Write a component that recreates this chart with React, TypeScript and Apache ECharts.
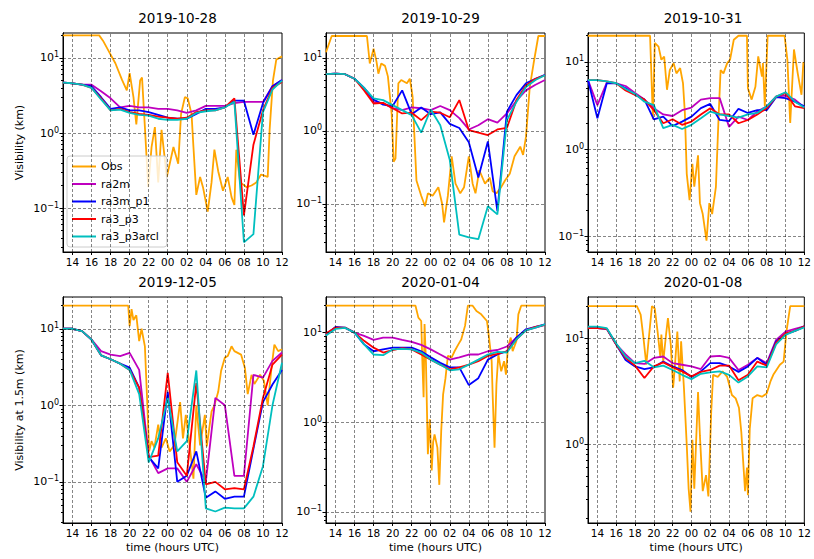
import React, { useEffect, useRef } from "react";
import * as echarts from "echarts";

// hours since 00 UTC of the first day, 13 .. 36 (= 12 UTC next day)
const hours = [13, 14, 15, 16, 17, 18, 19, 20, 21, 22, 23, 24, 25, 26, 27, 28, 29, 30, 31, 32, 33, 34, 35, 36];
const xTicks = [14, 16, 18, 20, 22, 24, 26, 28, 30, 32, 34, 36];
const yTicks = [0.1, 1, 10];
const yMinor = [0.02, 0.03, 0.04, 0.05, 0.06, 0.07, 0.08, 0.09, 0.2, 0.3, 0.4, 0.5, 0.6, 0.7, 0.8, 0.9, 2, 3, 4, 5, 6, 7, 8, 9, 20];
const titles = ["2019-10-28", "2019-10-29", "2019-10-31", "2019-12-05", "2020-01-04", "2020-01-08"];
const seriesNames = ["Obs", "ra2m", "ra3m_p1", "ra3_p3", "ra3_p3arcl"];
const colors = ["#ffa500", "#bf00bf", "#0000ff", "#ff0000", "#00bfbf"];

// 2019-10-28
const obs1 = [[13, 20], [16.8, 20], [17.2, 17], [17.9, 11.7], [18.5, 8.5], [19.2, 5.1], [19.7, 3.7], [20, 6.3], [20.4, 3.0], [20.7, 1.3], [21.1, 5], [21.3, 5.5], [21.6, 1.2], [21.95, 0.19], [22.3, 0.65], [22.65, 1.2], [23, 0.22], [23.35, 1.1], [23.9, 0.26], [24.6, 0.65], [25.1, 0.39], [25.4, 1.8], [25.8, 3.0], [26.1, 2.9], [26.5, 1.8], [26.7, 0.65], [27, 0.15], [27.4, 0.26], [27.7, 0.19], [28.2, 0.09], [28.6, 0.22], [28.9, 0.6], [29.3, 0.31], [29.8, 0.17], [30.3, 0.26], [30.7, 0.14], [31, 0.11], [31.2, 0.6], [31.6, 0.22], [32.3, 0.19], [32.8, 0.2], [33.3, 0.22], [33.8, 0.28], [34.5, 0.26], [34.7, 1.1], [35.05, 5], [35.4, 9.5], [36, 10.5]];
const ra2m1 = [4.7, 4.6, 4.4, 4.4, 3.6, 2.9, 2.2, 2.3, 2.2, 2.2, 2.1, 2.1, 2.0, 1.85, 2.0, 2.3, 2.3, 2.3, 2.5, 2.6, 2.6, 2.6, 4.2, 5.1];
const p1m1 = [4.7, 4.6, 4.4, 4.2, 3.0, 2.1, 2.2, 2.0, 2.0, 1.9, 1.75, 1.6, 1.55, 1.55, 1.8, 2.1, 2.1, 2.2, 2.7, 2.7, 0.95, 2.5, 4.2, 5.1];
const p3m1 = [4.7, 4.6, 4.4, 4.0, 2.9, 2.0, 2.1, 1.9, 1.8, 1.75, 1.65, 1.6, 1.55, 1.6, 1.9, 2.0, 2.0, 2.2, 2.9, 0.08, 0.7, 2.0, 4.0, 4.8];
const arcl1 = [4.7, 4.6, 4.4, 4.0, 2.8, 2.0, 2.05, 1.85, 1.75, 1.7, 1.55, 1.5, 1.5, 1.55, 1.85, 1.95, 2.0, 2.2, 2.6, 0.035, 0.045, 1.9, 3.8, 5.0];

// 2019-10-29
const obs2 = [[13, 12], [13.6, 20], [17.3, 20], [17.6, 8.4], [18, 13.4], [18.3, 9], [18.5, 6.1], [18.8, 8.4], [19.2, 7.8], [19.5, 5.6], [19.9, 1.7], [20.1, 0.38], [20.3, 0.42], [20.6, 4.5], [20.9, 5], [21.5, 4.5], [21.8, 5.2], [22, 3.6], [22.1, 2.9], [22.5, 0.21], [23, 0.13], [23.4, 0.093], [23.7, 0.14], [24.2, 0.13], [24.8, 0.17], [25.2, 0.1], [25.4, 0.056], [25.8, 0.13], [26.2, 0.45], [26.6, 0.19], [27.1, 0.14], [27.5, 0.17], [28, 0.45], [28.4, 0.19], [28.7, 0.14], [29.1, 0.29], [29.7, 0.19], [30.2, 0.23], [30.5, 0.15], [30.9, 0.14], [31.4, 0.17], [31.8, 0.21], [32.3, 0.26], [32.8, 0.45], [33.4, 0.61], [33.7, 0.47], [34, 0.83], [34.4, 4], [34.8, 8.4], [35.3, 20], [36, 20]];
const ra2m2 = [6.0, 6.1, 6.0, 5.2, 3.8, 2.5, 2.4, 2.05, 1.93, 2.1, 2.05, 1.93, 2.2, 1.93, 1.5, 1.05, 1.2, 1.45, 1.3, 1.74, 2.6, 3.6, 4.3, 5.0];
const p1m2 = [6.0, 6.1, 6.0, 5.2, 3.9, 2.7, 2.3, 2.2, 3.6, 1.7, 2.1, 1.7, 1.8, 1.25, 1.1, 0.7, 0.23, 0.72, 0.08, 1.84, 3.1, 4.5, 5.2, 5.9];
const p3m2 = [6.0, 6.1, 6.0, 5.2, 3.6, 2.38, 2.43, 2.05, 1.74, 1.78, 1.41, 1.84, 1.78, 1.54, 2.65, 1.03, 0.95, 0.88, 1.05, 1.1, 2.65, 4.2, 5.2, 5.8];
const arcl2 = [6.0, 6.1, 6.0, 5.2, 3.9, 2.8, 2.65, 2.26, 1.93, 1.65, 0.95, 1.97, 1.2, 0.4, 0.038, 0.035, 0.033, 0.093, 0.072, 1.41, 2.5, 4.0, 5.0, 5.8];

// 2019-10-31
const obs3 = [[13, 20], [19.6, 20], [19.9, 2.2], [20.1, 16.5], [20.5, 15], [20.8, 10.6], [21.1, 11.5], [21.4, 4.8], [21.7, 8.1], [22.1, 9.7], [22.4, 7.4], [22.8, 8.5], [23.1, 5.7], [23.3, 2.6], [23.5, 0.52], [23.8, 0.26], [24.1, 0.68], [24.3, 0.37], [24.7, 0.85], [24.9, 0.24], [25.2, 0.18], [25.6, 0.089], [25.9, 0.24], [26.2, 0.18], [26.6, 0.37], [26.9, 2.6], [27.1, 8.1], [27.4, 7.4], [27.8, 9.7], [28.1, 10.6], [28.5, 18], [29, 20], [29.9, 20], [30, 5], [30.4, 3.7], [30.8, 5.2], [31.1, 11.6], [31.5, 6.8], [31.6, 9.7], [31.8, 3.1], [32.1, 20], [33.9, 20], [34.2, 10.6], [34.5, 2], [34.9, 13.9], [35.3, 7.4], [35.7, 4.2], [35.9, 10]];
const ra2m3 = [6.2, 3.2, 5.8, 5.7, 5.3, 4.4, 3.7, 2.95, 2.5, 2.4, 2.8, 3.0, 3.7, 3.85, 3.85, 1.8, 2.36, 2.16, 2.7, 3.1, 4.0, 4.1, 3.7, 3.0];
const p1m3 = [6.2, 2.26, 5.7, 5.7, 5.0, 4.2, 3.7, 2.2, 2.36, 1.84, 2.07, 2.36, 2.95, 3.3, 2.16, 2.1, 2.9, 2.6, 2.8, 2.8, 3.95, 3.85, 3.5, 3.1];
const p3m3 = [6.2, 6.2, 6.0, 5.7, 4.7, 4.2, 3.7, 2.8, 1.98, 2.2, 1.9, 2.07, 2.5, 2.95, 2.5, 2.5, 1.98, 2.16, 2.5, 2.95, 4.0, 4.4, 3.1, 2.95];
const arcl3 = [6.2, 6.2, 6.0, 5.7, 4.9, 4.3, 3.5, 3.2, 1.74, 1.9, 1.7, 1.9, 2.26, 2.7, 2.5, 2.4, 2.3, 2.5, 2.6, 3.1, 4.0, 4.5, 3.5, 3.0];

// 2019-12-05
const obs4 = [[13, 20], [19.85, 20], [20, 10.8], [20.2, 18], [20.4, 13], [20.7, 15], [21, 6.9], [21.25, 10], [21.6, 5.9], [21.8, 1.5], [22.05, 0.25], [22.3, 0.34], [22.6, 0.28], [23, 0.56], [23.35, 0.28], [23.8, 0.37], [24.2, 0.25], [24.7, 0.3], [25.3, 1.1], [25.6, 0.37], [25.9, 0.75], [26.3, 0.3], [26.7, 0.11], [27, 1.0], [27.4, 0.3], [27.9, 0.75], [28.1, 0.29], [28.6, 0.83], [28.9, 1.0], [29.3, 1.5], [29.6, 2.8], [30, 4.2], [30.3, 4.4], [30.7, 5.9], [31, 5.1], [31.7, 4.6], [32.1, 3.1], [32.4, 1.4], [32.8, 2.5], [33.1, 1.9], [33.7, 2.5], [34.1, 2.1], [34.5, 1.0], [34.9, 3.1], [35.2, 6.2], [35.6, 5.1], [36, 5.4]];
const ra2m4 = [10, 10, 9.3, 7.2, 5.1, 4.6, 4.4, 4.85, 2.9, 0.22, 0.13, 0.15, 0.15, 0.1, 0.17, 0.1, 1.25, 1.0, 0.12, 0.12, 2.5, 2.3, 3.8, 4.9];
const p1m4 = [10, 10, 9.3, 7.2, 4.5, 4.0, 3.5, 3.1, 1.7, 0.21, 0.15, 1.5, 0.1, 0.12, 0.25, 0.062, 0.075, 0.06, 0.064, 0.064, 0.27, 1.1, 1.87, 2.9];
const p3m4 = [10, 10, 9.3, 7.2, 4.5, 4.0, 3.5, 2.9, 1.7, 0.21, 0.22, 2.65, 0.18, 0.12, 1.95, 0.093, 0.1, 0.08, 0.083, 0.08, 0.29, 1.25, 3.4, 4.6];
const arcl4 = [10, 10, 9.3, 7.2, 4.5, 4.0, 3.5, 2.9, 1.4, 0.18, 0.37, 1.25, 0.25, 0.34, 2.85, 0.045, 0.041, 0.046, 0.045, 0.045, 0.064, 0.16, 1.0, 3.6];

// 2020-01-04
const obs5 = [[13, 20], [22.4, 20], [22.7, 14.7], [23, 13.5], [23.1, 5.5], [23.25, 1.9], [23.35, 12.5], [23.5, 4.6], [23.7, 0.44], [23.9, 1.08], [24.1, 0.29], [24.25, 0.6], [24.4, 0.73], [24.7, 0.52], [24.9, 0.2], [25.1, 0.8], [25.3, 2.05], [25.55, 3.1], [25.8, 5.5], [26.2, 5.3], [26.5, 6.2], [26.9, 7.4], [27.2, 8.4], [27.6, 11.9], [27.9, 20], [28.4, 20], [28.8, 17.4], [29.3, 16], [29.9, 13.5], [30, 11.4], [30.4, 4.8], [30.5, 2.05], [30.7, 0.52], [30.9, 2.65], [31.1, 5.7], [31.4, 3.7], [31.7, 4.8], [31.9, 3.4], [32.1, 6.8], [32.4, 8.8], [32.6, 6.2], [33, 8.1], [33.2, 16], [33.5, 20], [36, 20]];
const ra2m5 = [9.8, 11.3, 11.3, 10, 9.2, 8.3, 8.8, 8.8, 8.3, 7.9, 7.3, 6.5, 5.7, 5.0, 5.3, 5.7, 5.7, 6.2, 6.4, 7.0, 8.8, 10.7, 11.4, 12.2];
const p1m5 = [9.5, 11.6, 11.4, 10, 7.4, 6.2, 6.5, 6.8, 6.8, 6.8, 6.2, 5.3, 4.6, 4.1, 4.1, 2.6, 3.1, 5.0, 5.7, 6.2, 8.8, 10.9, 11.6, 12.4];
const p3m5 = [9.8, 11.4, 11.4, 10, 8.1, 6.8, 6.0, 6.4, 6.7, 6.5, 5.7, 5.0, 4.4, 3.9, 4.1, 4.4, 4.8, 5.5, 5.8, 6.2, 8.4, 10.6, 11.6, 12.2];
const arcl5 = [9.3, 11, 11.3, 10, 7.4, 5.7, 5.6, 6.5, 6.6, 6.5, 6.0, 5.0, 4.4, 3.8, 3.9, 4.4, 5.0, 5.7, 6.1, 6.0, 8.4, 10.6, 11.4, 12.4];

// 2020-01-08
const obs6 = [[13, 20], [18.2, 20], [18.6, 16.6], [18.9, 10], [19.2, 5.6], [19.4, 8.7], [19.8, 20], [20.1, 19], [20.4, 11.5], [20.7, 6.5], [20.8, 10.8], [21, 6.0], [21.3, 10.8], [21.5, 15.4], [21.8, 8.7], [22.05, 3.4], [22.2, 4.9], [22.5, 11.5], [22.75, 3.9], [22.9, 9.3], [23.2, 3.4], [23.5, 0.98], [23.7, 0.38], [23.9, 0.23], [24.1, 1.1], [24.3, 0.38], [24.7, 3.1], [24.9, 1.2], [25.2, 0.36], [25.55, 0.51], [25.8, 0.32], [26.1, 2.0], [26.3, 4.5], [26.8, 4.3], [27.3, 4.85], [27.8, 4.3], [28.3, 2.9], [28.7, 2.7], [29.05, 2.2], [29.3, 1.3], [29.7, 0.36], [29.9, 0.6], [30, 0.33], [30.2, 1.4], [30.5, 2.7], [31, 2.9], [31.5, 2.8], [32, 3.0], [32.4, 3.9], [32.7, 4.5], [33.4, 5.6], [33.8, 6.0], [34.1, 11.5], [34.5, 20], [36, 20]];
const ra2m6 = [12.4, 12.4, 12.2, 8.7, 7.0, 5.8, 5.7, 6.5, 6.7, 5.8, 5.6, 5.4, 5.1, 6.7, 6.8, 6.5, 5.0, 5.6, 6.5, 5.8, 9.6, 11.5, 12.2, 12.9];
const p1m6 = [12.4, 12.4, 12.2, 8.7, 6.2, 5.4, 5.1, 5.3, 6.0, 5.4, 5.0, 4.3, 4.85, 5.8, 5.8, 5.4, 4.8, 5.4, 6.5, 5.6, 9.3, 10.9, 11.7, 12.9];
const p3m6 = [12.4, 12.4, 12.2, 8.7, 6.5, 5.5, 4.2, 5.4, 5.9, 5.3, 4.85, 4.35, 4.8, 5.0, 5.5, 5.5, 4.0, 4.5, 6.0, 5.5, 9.0, 11.1, 11.7, 12.9];
const arcl6 = [12.8, 12.8, 12.4, 8.9, 6.7, 5.8, 6.1, 5.3, 5.5, 5.0, 4.5, 4.1, 4.6, 4.75, 4.85, 4.5, 3.8, 4.35, 5.4, 5.3, 8.7, 10.7, 11.7, 12.6];

const obsList = [obs1, obs2, obs3, obs4, obs5, obs6];
const modelList = [
  [ra2m1, p1m1, p3m1, arcl1],
  [ra2m2, p1m2, p3m2, arcl2],
  [ra2m3, p1m3, p3m3, arcl3],
  [ra2m4, p1m4, p3m4, arcl4],
  [ra2m5, p1m5, p3m5, arcl5],
  [ra2m6, p1m6, p3m6, arcl6],
];
const yRanges = [[0.026, 21.5], [0.022, 22], [0.066, 21.5], [0.029, 26], [0.075, 25], [0.18, 24.4]];

// panel layout in px
const lefts = [63, 326, 588];
const widths = [219, 219, 220];
const tops = [33, 297];
const heights = [219, 226];

const FONT = "DejaVu Sans";
const fmtPow = (v: number) => {
  const e = Math.round(Math.log10(v));
  return "10{s|" + (e < 0 ? "\u2212" + -e : String(e)) + "}";
};
const fmtHour = (v: number) => String(v % 24).padStart(2, "0");

const App: React.FC = () => {
  const chartRef = useRef<HTMLDivElement>(null);

  useEffect(() => {
    if (!chartRef.current) return;
    const myChart = echarts.init(chartRef.current, null, { renderer: "svg" });

    const grids: any[] = [];
    const xAxes: any[] = [];
    const yAxes: any[] = [];
    const series: any[] = [];
    const titleList: any[] = [];

    for (let p = 0; p < 6; p++) {
      const row = Math.floor(p / 3);
      const col = p % 3;
      const [ymin, ymax] = yRanges[p];
      grids.push({
        left: lefts[col], top: tops[row], width: widths[col], height: heights[row],
        show: true, borderColor: "#000", borderWidth: 1,
      });
      titleList.push({
        text: titles[p], left: lefts[col] + widths[col] / 2, top: tops[row] - 27, textAlign: "center",
        textStyle: { fontFamily: FONT, fontSize: 13.5, fontWeight: "normal", color: "#000" },
      });
      xAxes.push({
        type: "value", gridIndex: p, min: 13, max: 36,
        name: row === 1 ? "time (hours UTC)" : "", nameLocation: "middle", nameGap: 19,
        nameTextStyle: { fontFamily: FONT, fontSize: 11, color: "#000" },
        axisLine: { lineStyle: { color: "#000" } },
        axisTick: { customValues: xTicks, length: 3, lineStyle: { color: "#000" } },
        axisLabel: { customValues: xTicks, formatter: fmtHour, fontFamily: FONT, fontSize: 10.5, color: "#000", margin: 4 },
        splitLine: { show: false },
      });
      const ylabels = yTicks.filter(v => v >= ymin && v <= ymax);
      yAxes.push({
        type: "log", logBase: 10, gridIndex: p, min: ymin, max: ymax, position: "left",
        name: col === 0 ? (row === 0 ? "Visibility (km)" : "Visibility at 1.5m (km)") : "",
        nameLocation: "middle", nameGap: 38, nameRotate: 90,
        nameTextStyle: { fontFamily: FONT, fontSize: 11, color: "#000" },
        axisLine: { show: true, lineStyle: { color: "#000" } },
        axisTick: { customValues: ylabels, length: 3.5, lineStyle: { color: "#000" } },
        axisLabel: {
          customValues: ylabels, formatter: fmtPow, fontFamily: FONT, fontSize: 11, color: "#000", margin: 4,
          rich: { s: { fontFamily: FONT, fontSize: 8, color: "#000", verticalAlign: "top", padding: [0, 0, 6, 0] } },
        },
        splitLine: { show: false },
      });
      yAxes.push({
        type: "log", logBase: 10, gridIndex: p, min: ymin, max: ymax, position: "left", offset: 0,
        axisLine: { show: true, lineStyle: { color: "#000" } },
        axisTick: { show: true, customValues: yMinor.filter(v => v >= ymin && v <= ymax), length: 2, lineStyle: { color: "#000" } },
        axisLabel: { show: false },
        splitLine: { show: false },
      });

      const gridLines = [
        ...xTicks.filter(v => v < 36).map(v => ({ xAxis: v })),
        ...ylabels.map(v => ({ yAxis: v })),
      ];
      series.push({
        name: seriesNames[0], type: "line", xAxisIndex: p, yAxisIndex: p * 2,
        data: obsList[p], symbol: "none", lineStyle: { width: 1.8, color: colors[0] }, color: colors[0],
        markLine: {
          silent: true, symbol: "none", label: { show: false },
          lineStyle: { type: [3, 2], color: "#000", width: 0.6, opacity: 0.8 },
          data: gridLines,
        },
      });
      modelList[p].forEach((vals, k) => {
        series.push({
          name: seriesNames[k + 1], type: "line", xAxisIndex: p, yAxisIndex: p * 2,
          data: hours.map((h, i) => [h, vals[i]]), symbol: "none",
          lineStyle: { width: 1.8, color: colors[k + 1] }, color: colors[k + 1],
        });
      });
    }

    myChart.setOption({
      animation: false,
      backgroundColor: "#fff",
      textStyle: { fontFamily: FONT },
      title: titleList,
      grid: grids,
      xAxis: xAxes,
      yAxis: yAxes,
      legend: {
        data: seriesNames, orient: "vertical", left: 67, top: 156, itemWidth: 24, itemHeight: 10, itemGap: 6.5,
        backgroundColor: "rgba(255,255,255,0.8)", borderColor: "#ccc", borderWidth: 1, borderRadius: 3, padding: [5, 8, 5, 5],
        textStyle: { fontFamily: FONT, fontSize: 11, color: "#000" },
        icon: "path://M0,4 L24,4 L24,6 L0,6 Z",
      },
      series,
    });

    return () => {
      myChart.dispose();
    };
  }, []);

  return <div ref={chartRef} style={{ position: "absolute", left: 0, top: 0, width: "814px", height: "559px" }} />;
};

export default App;
